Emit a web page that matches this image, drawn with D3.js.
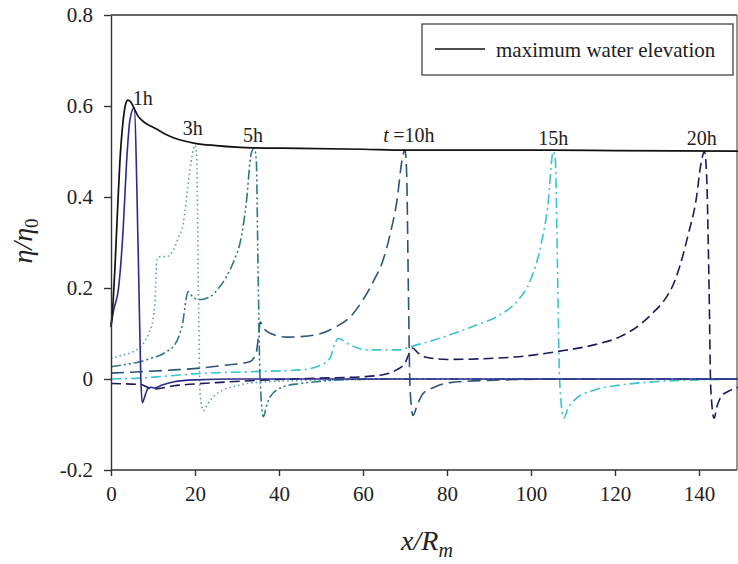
<!DOCTYPE html>
<html>
<head>
<meta charset="utf-8">
<script src="https://cdn.jsdelivr.net/npm/d3@7"></script>
<style>
  body { margin: 0; background: #fff; }
  svg text { font-family: "Liberation Serif", "DejaVu Serif", "Times New Roman", Times, serif !important; fill: #222; }
</style>
</head>
<body>
<svg width="738" height="564"></svg>
<script>

// x/Rm , eta/eta0
var maxElev = [[0,0.114],[0.5,0.17],[0.95,0.246],[1.5,0.36],[2.1,0.475],[2.9,0.569],[3.5,0.605],[4,0.613],[4.6,0.61],[5.5,0.595],[6.3,0.58],[7.3,0.569],[9,0.558],[10.5,0.551],[13,0.538],[15.2,0.529],[20,0.518],[25,0.513],[34,0.508],[45,0.507],[60,0.505],[70,0.503],[90,0.503],[105,0.503],[120,0.502],[150,0.501]];

var h1 = [[0,0.118],[0.6,0.15],[1.8,0.2],[2.9,0.33],[3.7,0.475],[4.5,0.569],[5.5,0.596],[6.5,0.27],[7.1,0.0],[7.45,-0.052],[8,-0.04],[8.7,-0.022],[9.5,-0.018],[10.5,-0.02],[12,-0.014],[15,-0.006],[20,-0.002],[30,0],[150,0]];

var h3 = [[0,0.045],[2.5,0.052],[5.3,0.06],[7.7,0.078],[9,0.1],[10,0.13],[10.5,0.174],[10.9,0.262],[11.7,0.269],[13.2,0.269],[14.8,0.283],[16,0.31],[17.2,0.342],[18.4,0.43],[19.3,0.49],[20,0.514],[20.4,0.49],[20.8,0.2],[21.2,-0.03],[22,-0.07],[23,-0.055],[24.4,-0.039],[26.5,-0.025],[29.1,-0.017],[33,-0.009],[40,-0.005],[55,-0.002],[70,0],[150,0]];

var h5 = [[0,0.027],[3.5,0.032],[6.9,0.038],[10,0.047],[11.7,0.052],[13.5,0.062],[14.8,0.071],[16.4,0.1],[17.2,0.13],[17.6,0.159],[18.4,0.192],[19.5,0.18],[20.8,0.174],[23.6,0.181],[25.5,0.198],[27.5,0.225],[29.5,0.265],[30.7,0.298],[32.2,0.386],[33.4,0.496],[34.1,0.507],[34.6,0.48],[35,0.25],[35.5,0.0],[36.3,-0.083],[37,-0.06],[37.9,-0.039],[41,-0.017],[45,-0.01],[49,-0.006],[57,-0.001],[70,0],[150,0]];

var h10 = [[0,0.013],[6.9,0.016],[15,0.02],[21.2,0.024],[27,0.03],[33,0.038],[34.5,0.055],[35.2,0.1],[35.5,0.125],[36.5,0.11],[38,0.1],[42,0.092],[45,0.093],[50,0.1],[53,0.112],[57,0.137],[60,0.174],[62.5,0.215],[64.8,0.262],[66.5,0.32],[68.1,0.393],[69.3,0.481],[70,0.503],[70.4,0.45],[70.8,0.2],[71.2,-0.02],[71.9,-0.08],[73,-0.055],[74.3,-0.032],[77,-0.018],[80.7,-0.008],[90,-0.003],[110,0],[150,0]];

var h15 = [[0,0.0],[7,0.002],[14,0.007],[21,0.012],[33.1,0.016],[45,0.02],[49,0.027],[52.1,0.045],[53.3,0.078],[54.1,0.089],[56.9,0.075],[60.9,0.064],[68.8,0.064],[71.2,0.071],[76,0.083],[80.7,0.097],[86,0.115],[92.6,0.141],[96.6,0.17],[100,0.22],[102.5,0.3],[104,0.38],[105.3,0.5],[105.8,0.48],[106.3,0.25],[106.8,0.0],[107.8,-0.086],[108.8,-0.065],[110.4,-0.046],[115.2,-0.024],[121.5,-0.013],[129.4,-0.006],[140,-0.002],[150,0]];

var h20 = [[0,-0.01],[7,-0.012],[10,-0.022],[15,-0.015],[25,-0.008],[35,-0.003],[50,0.002],[60,0.005],[65,0.01],[68,0.02],[70,0.035],[71.2,0.06],[71.8,0.068],[73,0.058],[75,0.048],[80,0.043],[90,0.045],[100,0.052],[106,0.06],[115,0.075],[121,0.092],[126,0.12],[129,0.145],[131.8,0.174],[133.5,0.2],[135.5,0.25],[137.5,0.32],[139.3,0.393],[140.5,0.475],[141.3,0.5],[141.8,0.45],[142.4,0.2],[142.8,-0.02],[143.6,-0.086],[144.3,-0.06],[145.2,-0.04],[147,-0.027],[150,-0.017]];

var series = [
  {name: "max", data: maxElev, color: "#111", dash: null, w: 1.7},
  {name: "1h", data: h1, color: "#2b2b88", dash: null, w: 1.6},
  {name: "3h", data: h3, color: "#5b9fc4", dash: "1.5,3", w: 1.6},
  {name: "5h", data: h5, color: "#2b7a80", dash: "10,3,2,3,2,3", w: 1.6},
  {name: "10h", data: h10, color: "#2c5577", dash: "13,6", w: 1.6},
  {name: "15h", data: h15, color: "#3cc3cf", dash: "10,4,2,4", w: 1.6},
  {name: "20h", data: h20, color: "#1b1b5e", dash: "10,5", w: 1.6}
];

var xTicks = [0,20,40,60,80,100,120,140];
var yTicks = [-0.2,0,0.2,0.4,0.6,0.8];

// time labels: text, x/Rm, eta/eta0
var timeLabels = [["1h",5.2,0.602],["3h",17.1,0.536],["5h",31.4,0.521],["=10h",67.2,0.521],["15h",101.7,0.514],["20h",137.1,0.514]];

var svg = d3.select("svg");

var xScale = d3.scaleLinear().domain([0,150]).range([111, 741]);
var yScale = d3.scaleLinear().domain([-0.2,0.8]).range([470, 15]);

var boxRight = 737;

// frame top + right
svg.append("line")
   .attr("x1", xScale(0)).attr("x2", boxRight)
   .attr("y1", yScale(0.8)).attr("y2", yScale(0.8))
   .attr("stroke", "#333").attr("stroke-width", 1.3);
svg.append("line")
   .attr("x1", boxRight).attr("x2", boxRight)
   .attr("y1", yScale(0.8)).attr("y2", yScale(-0.2))
   .attr("stroke", "#555").attr("stroke-width", 1.2);

var line = d3.line()
    .x(function(d){ return xScale(d[0]); })
    .y(function(d){ return yScale(d[1]); })
    .curve(d3.curveMonotoneX);

svg.selectAll(".curve")
   .data(series.slice().reverse())
   .enter()
   .append("path")
   .attr("class", "curve")
   .attr("d", function(d){ return line(d.data); })
   .attr("fill", "none")
   .attr("stroke", function(d){ return d.color; })
   .attr("stroke-width", function(d){ return d.w; })
   .attr("stroke-dasharray", function(d){ return d.dash; });

//x axis
var gx = svg.append("g")
   .attr("transform", "translate(0," + yScale(-0.2) + ")")
   .call(d3.axisBottom(xScale).tickValues(xTicks).tickSize(6).tickSizeOuter(0).tickPadding(10).tickFormat(d3.format("d")));
gx.select(".domain").attr("d", "M" + xScale(0) + ",0H" + boxRight);

//y axis
var gy = svg.append("g")
   .attr("transform", "translate(" + xScale(0) + ",0)")
   .call(d3.axisLeft(yScale).tickValues(yTicks).tickSize(7).tickSizeOuter(0).tickPadding(11)
     .tickFormat(function(d){ return d === 0 ? "0" : d.toFixed(1); }));

gx.attr("font-family", null);
gy.attr("font-family", null);
svg.selectAll(".tick text").style("font-size", "21px").attr("fill", "#222");
svg.selectAll(".domain, .tick line").attr("stroke", "#333").attr("stroke-width", 1.4);

// time labels
svg.selectAll(".tlab")
   .data(timeLabels)
   .enter()
   .append("text")
   .attr("class", "tlab")
   .attr("x", function(d){ return xScale(d[1]); })
   .attr("y", function(d){ return yScale(d[2]); })
   .style("font-size", "20px")
   .text(function(d){ return d[0]; });

svg.append("text")
   .attr("x", xScale(64.8)).attr("y", yScale(0.521))
   .style("font-size", "20px").style("font-style", "italic")
   .text("t");

// legend
var lg = svg.append("g").attr("transform", "translate(422,24)");
lg.append("rect").attr("width", 311).attr("height", 51)
  .attr("fill", "#fff").attr("stroke", "#444").attr("stroke-width", 1.3);
lg.append("line").attr("x1", 13).attr("x2", 63).attr("y1", 25).attr("y2", 25)
  .attr("stroke", "#111").attr("stroke-width", 1.7);
lg.append("text").attr("x", 74).attr("y", 33).style("font-size", "21px")
  .text("maximum water elevation");

// axis titles
var xt = svg.append("text")
   .attr("x", 427).attr("y", 550)
   .attr("text-anchor", "middle")
   .style("font-size", "28px").style("font-style", "italic");
xt.append("tspan").text("x/R");
xt.append("tspan").attr("dy", 7).style("font-size", "20px").text("m");

var yt = svg.append("text")
   .attr("transform", "translate(32,241) rotate(-90)")
   .attr("text-anchor", "middle")
   .style("font-size", "28px").style("font-style", "italic");
yt.append("tspan").text("η/η");
yt.append("tspan").attr("dy", 6).style("font-size", "19px").style("font-style", "normal").text("0");

</script>
</body>
</html>
